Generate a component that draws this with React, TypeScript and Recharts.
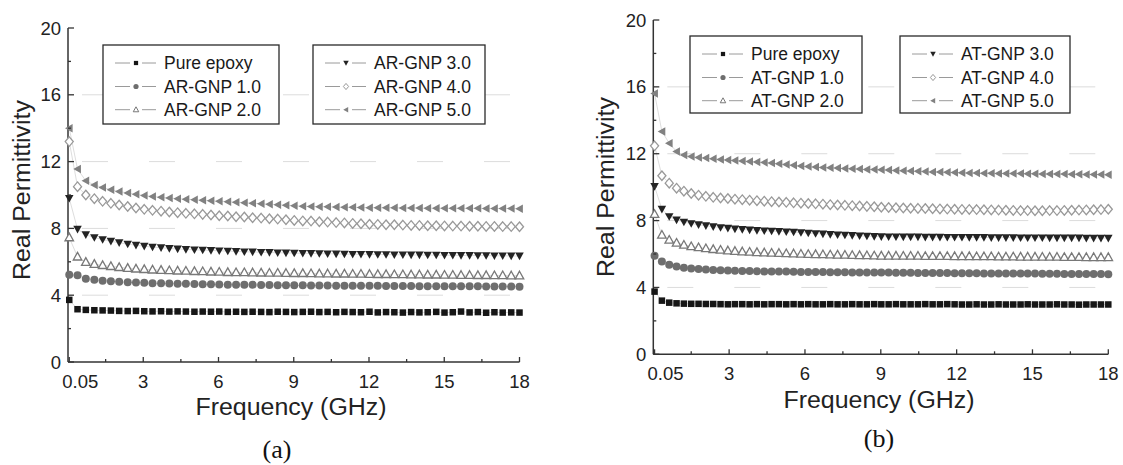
import { LineChart, Line, XAxis, YAxis, ReferenceLine, Legend } from "recharts";

// frequency grids (GHz) of the two measurements
const freqA = [
  0.05, 0.38, 0.71, 1.05, 1.38, 1.71, 2.04, 2.38, 2.71, 3.04, 3.37, 3.71, 4.04, 4.37, 4.7, 5.04, 5.37, 5.7, 6.03,
  6.37, 6.7, 7.03, 7.36, 7.7, 8.03, 8.36, 8.69, 9.02, 9.36, 9.69, 10.02, 10.35, 10.69, 11.02, 11.35, 11.68, 12.02,
  12.35, 12.68, 13.01, 13.35, 13.68, 14.01, 14.34, 14.68, 15.01, 15.34, 15.67, 16.01, 16.34, 16.67, 17.0, 17.33,
  17.67, 18.0,
];
const freqB = [
  0.05, 0.34, 0.63, 0.92, 1.21, 1.5, 1.79, 2.08, 2.37, 2.66, 2.95, 3.23, 3.52, 3.81, 4.1, 4.39, 4.68, 4.97, 5.26,
  5.55, 5.84, 6.13, 6.42, 6.71, 7.0, 7.29, 7.58, 7.87, 8.16, 8.45, 8.74, 9.02, 9.31, 9.6, 9.89, 10.18, 10.47, 10.76,
  11.05, 11.34, 11.63, 11.92, 12.21, 12.5, 12.79, 13.08, 13.37, 13.66, 13.95, 14.24, 14.53, 14.81, 15.1, 15.39,
  15.68, 15.97, 16.26, 16.55, 16.84, 17.13, 17.42, 17.71, 18.0,
];

// (a) AR-GNP composites
const epoxyA = [
  3.72, 3.16, 3.12, 3.1, 3.09, 3.08, 3.06, 3.05, 3.06, 3.04,
  3.03, 3.04, 3.02, 3.03, 3.02, 3.01, 3.02, 3.01, 3.02, 3.0,
  3.01, 3.0, 3.01, 3.0, 2.99, 3.01, 3.0, 2.99, 3.0, 3.01,
  2.99, 3.0, 2.98, 3.0, 2.99, 2.98, 3.01, 2.97, 2.99, 2.98,
  2.96, 2.99, 2.97, 2.98, 3.0, 2.96, 2.98, 3.02, 2.97, 2.99,
  2.95, 2.98, 2.96, 2.97, 2.96,
];
const arGnp1 = [
  5.22, 5.2, 4.98, 4.92, 4.87, 4.84, 4.81, 4.78, 4.76, 4.74,
  4.72, 4.71, 4.7, 4.69, 4.68, 4.67, 4.66, 4.65, 4.64, 4.63,
  4.63, 4.62, 4.62, 4.61, 4.61, 4.6, 4.6, 4.59, 4.59, 4.58,
  4.58, 4.58, 4.57, 4.57, 4.57, 4.56, 4.56, 4.56, 4.55, 4.55,
  4.55, 4.55, 4.54, 4.54, 4.54, 4.54, 4.53, 4.53, 4.53, 4.53,
  4.52, 4.52, 4.52, 4.52, 4.51,
];
const arGnp2 = [
  7.45, 6.3, 5.98, 5.86, 5.79, 5.73, 5.67, 5.62, 5.58, 5.55,
  5.52, 5.5, 5.48, 5.46, 5.45, 5.43, 5.42, 5.4, 5.39, 5.37,
  5.36, 5.36, 5.35, 5.34, 5.33, 5.33, 5.32, 5.31, 5.31, 5.3,
  5.29, 5.29, 5.28, 5.28, 5.27, 5.27, 5.26, 5.25, 5.25, 5.24,
  5.24, 5.23, 5.23, 5.22, 5.22, 5.21, 5.21, 5.2, 5.2, 5.19,
  5.19, 5.18, 5.18, 5.17, 5.17,
];
const arGnp3 = [
  9.8, 7.95, 7.62, 7.45, 7.33, 7.23, 7.14, 7.06, 6.99, 6.93,
  6.88, 6.84, 6.8, 6.77, 6.74, 6.72, 6.7, 6.68, 6.66, 6.64,
  6.62, 6.6, 6.59, 6.57, 6.56, 6.54, 6.53, 6.52, 6.51, 6.5,
  6.49, 6.48, 6.47, 6.46, 6.45, 6.45, 6.44, 6.43, 6.43, 6.42,
  6.42, 6.41, 6.41, 6.4, 6.4, 6.39, 6.39, 6.38, 6.38, 6.37,
  6.37, 6.36, 6.36, 6.35, 6.35,
];
const arGnp4 = [
  13.2, 10.5, 10.0, 9.78, 9.62, 9.5, 9.4, 9.31, 9.22, 9.14,
  9.08, 9.03, 8.98, 8.94, 8.9, 8.87, 8.84, 8.8, 8.76, 8.74,
  8.7, 8.68, 8.64, 8.62, 8.58, 8.56, 8.52, 8.48, 8.45, 8.44,
  8.4, 8.38, 8.35, 8.33, 8.3, 8.28, 8.25, 8.24, 8.22, 8.22,
  8.2, 8.18, 8.18, 8.16, 8.16, 8.15, 8.14, 8.14, 8.13, 8.13,
  8.12, 8.12, 8.11, 8.11, 8.1,
];
const arGnp5 = [
  14.0, 11.55, 10.85, 10.6, 10.45, 10.32, 10.21, 10.12, 10.04, 9.97,
  9.91, 9.86, 9.82, 9.78, 9.75, 9.72, 9.69, 9.66, 9.63, 9.6,
  9.57, 9.54, 9.51, 9.48, 9.45, 9.42, 9.39, 9.36, 9.33, 9.31,
  9.3, 9.29, 9.28, 9.27, 9.26, 9.25, 9.24, 9.24, 9.23, 9.23,
  9.22, 9.22, 9.22, 9.21, 9.21, 9.21, 9.2, 9.2, 9.2, 9.2,
  9.19, 9.19, 9.19, 9.19, 9.18,
];

// (b) AT-GNP composites
const epoxyB = [
  3.75, 3.21, 3.09, 3.05, 3.03, 3.02, 3.02, 3.01, 3.01, 3.0,
  2.99, 3.0, 3.0, 2.99, 3.0, 2.99, 3.0, 3.0, 2.99, 3.0,
  2.99, 3.0, 2.99, 2.99, 3.0, 2.99, 2.99, 3.0, 2.99, 2.99,
  3.0, 2.99, 2.99, 3.0, 2.99, 2.99, 2.99, 3.0, 2.99, 2.99,
  3.0, 2.99, 2.98, 2.98, 2.99, 2.98, 2.98, 2.99, 2.98, 2.98,
  2.98, 2.99, 2.98, 2.98, 2.98, 2.99, 2.98, 2.98, 2.97, 2.98,
  2.98, 2.98, 2.98,
];
const atGnp1 = [
  5.89, 5.55, 5.35, 5.25, 5.18, 5.13, 5.1, 5.07, 5.05, 5.03,
  5.01, 5.0, 4.99, 4.98, 4.97, 4.96, 4.96, 4.95, 4.95, 4.94,
  4.93, 4.93, 4.92, 4.92, 4.91, 4.91, 4.91, 4.9, 4.9, 4.9,
  4.89, 4.89, 4.89, 4.88, 4.88, 4.88, 4.87, 4.87, 4.87, 4.86,
  4.86, 4.85, 4.85, 4.85, 4.85, 4.84, 4.84, 4.84, 4.84, 4.83,
  4.83, 4.83, 4.83, 4.82, 4.82, 4.82, 4.81, 4.81, 4.81, 4.8,
  4.8, 4.8, 4.79,
];
const atGnp2 = [
  8.38, 7.14, 6.84, 6.66, 6.54, 6.45, 6.39, 6.33, 6.28, 6.24,
  6.2, 6.17, 6.14, 6.12, 6.1, 6.08, 6.06, 6.05, 6.03, 6.02,
  6.0, 5.99, 5.98, 5.97, 5.96, 5.95, 5.94, 5.93, 5.92, 5.91,
  5.9, 5.89, 5.89, 5.89, 5.88, 5.88, 5.88, 5.87, 5.87, 5.87,
  5.87, 5.86, 5.86, 5.86, 5.85, 5.85, 5.85, 5.84, 5.84, 5.84,
  5.83, 5.83, 5.83, 5.82, 5.82, 5.82, 5.81, 5.81, 5.81, 5.8,
  5.8, 5.8, 5.8,
];
const atGnp3 = [
  10.04, 8.68, 8.24, 8.04, 7.91, 7.82, 7.75, 7.69, 7.63, 7.58,
  7.54, 7.5, 7.47, 7.44, 7.41, 7.39, 7.37, 7.35, 7.33, 7.31,
  7.28, 7.25, 7.22, 7.2, 7.17, 7.15, 7.13, 7.11, 7.09, 7.07,
  7.05, 7.04, 7.03, 7.03, 7.02, 7.02, 7.02, 7.01, 7.01, 7.01,
  7.0, 7.0, 7.0, 6.99, 6.99, 6.99, 6.98, 6.98, 6.98, 6.98,
  6.97, 6.97, 6.97, 6.97, 6.96, 6.96, 6.96, 6.96, 6.96, 6.95,
  6.95, 6.95, 6.95,
];
const atGnp4 = [
  12.47, 10.68, 10.24, 9.94, 9.76, 9.62, 9.52, 9.45, 9.39, 9.35,
  9.32, 9.28, 9.25, 9.22, 9.19, 9.16, 9.13, 9.11, 9.09, 9.06,
  9.04, 9.02, 9.0, 8.98, 8.95, 8.93, 8.91, 8.89, 8.87, 8.85,
  8.83, 8.8, 8.78, 8.77, 8.75, 8.74, 8.73, 8.72, 8.71, 8.7,
  8.69, 8.68, 8.67, 8.67, 8.66, 8.65, 8.64, 8.63, 8.62, 8.61,
  8.6, 8.6, 8.59, 8.59, 8.6, 8.6, 8.61, 8.62, 8.63, 8.64,
  8.65, 8.66, 8.68,
];
const atGnp5 = [
  15.6, 13.33, 12.63, 12.13, 11.92, 11.83, 11.78, 11.74, 11.7, 11.66,
  11.63, 11.6, 11.57, 11.54, 11.51, 11.48, 11.44, 11.4, 11.36, 11.31,
  11.26, 11.23, 11.2, 11.18, 11.16, 11.14, 11.12, 11.1, 11.08, 11.06,
  11.05, 11.04, 11.02, 11.0, 10.98, 10.96, 10.95, 10.93, 10.91, 10.9,
  10.89, 10.87, 10.86, 10.85, 10.84, 10.83, 10.83, 10.82, 10.82, 10.81,
  10.81, 10.8, 10.8, 10.79, 10.79, 10.78, 10.78, 10.77, 10.77, 10.76,
  10.76, 10.75, 10.74,
];

const namesA = ["Pure epoxy", "AR-GNP 1.0", "AR-GNP 2.0", "AR-GNP 3.0", "AR-GNP 4.0", "AR-GNP 5.0"];
const namesB = ["Pure epoxy", "AT-GNP 1.0", "AT-GNP 2.0", "AT-GNP 3.0", "AT-GNP 4.0", "AT-GNP 5.0"];

const xMajor = [0.05, 3, 6, 9, 12, 15, 18];
const xMajorLabels = ["0.05", "3", "6", "9", "12", "15", "18"];
const xMinor = [1.5, 4.5, 7.5, 10.5, 13.5, 16.5];
const yMajor = [0, 4, 8, 12, 16, 20];
const yMinor = [2, 6, 10, 14, 18];
const gridLevels = [4, 8, 12, 16];

const SANS = "'Liberation Sans', Arial, Helvetica, sans-serif";
const SERIF = "'Liberation Serif', 'Times New Roman', serif";
const AXIS = "#333";

// symbol for each series, same order as the names
const markers = [
  { shape: "square", color: "#161616", size: 6.5 },
  { shape: "circle", color: "#6e6e6e", size: 8 },
  { shape: "triUp", color: "#787878", size: 8.5 },
  { shape: "triDown", color: "#232323", size: 8.5 },
  { shape: "diamond", color: "#999", size: 9.5 },
  { shape: "triLeft", color: "#818181", size: 8.5 },
];

function Marker({ shape, color, size, cx, cy, sw = 1.3 }: any) {
  const h = size / 2;
  switch (shape) {
    case "square":
      return <rect x={cx - h} y={cy - h} width={size} height={size} fill={color} />;
    case "circle":
      return <circle cx={cx} cy={cy} r={h} fill={color} />;
    case "triUp":
      return (
        <path
          d={`M${cx},${cy - h * 1.05}L${cx + h},${cy + h * 0.75}L${cx - h},${cy + h * 0.75}Z`}
          fill="#fff"
          stroke={color}
          strokeWidth={sw}
        />
      );
    case "triDown":
      return <path d={`M${cx - h},${cy - h * 0.8}L${cx + h},${cy - h * 0.8}L${cx},${cy + h}Z`} fill={color} />;
    case "diamond":
      return (
        <path
          d={`M${cx},${cy - h}L${cx + h * 0.85},${cy}L${cx},${cy + h}L${cx - h * 0.85},${cy}Z`}
          fill="#fff"
          stroke={color}
          strokeWidth={sw}
        />
      );
    default:
      return <path d={`M${cx - h},${cy}L${cx + h * 0.8},${cy - h}L${cx + h * 0.8},${cy + h}Z`} fill={color} />;
  }
}

const makeDot = (m: any) => (p: any) =>
  p.cx == null ? <g key={`e-${p.index}`} /> : (
    <g key={`d-${p.index}`}>
      <Marker {...m} cx={p.cx} cy={p.cy} />
    </g>
  );

const XTick = ({ x, y, payload }: any) => {
  const v = payload.value;
  const i = xMajor.indexOf(v);
  const major = i >= 0;
  return (
    <g>
      <line x1={x} x2={x} y1={y} y2={y - (major ? 5 : 3)} stroke={AXIS} strokeWidth={1.3} />
      {major && (
        <text x={x + (i === 0 ? 11 : 0)} y={y + 26} textAnchor="middle" fontSize={18.5} fill="#222" fontFamily={SANS}>
          {xMajorLabels[i]}
        </text>
      )}
    </g>
  );
};

const YTick = ({ x, y, payload }: any) => {
  const v = payload.value;
  const major = yMajor.includes(v);
  return (
    <g>
      <line x1={x} x2={x + (major ? 6 : 3)} y1={y} y2={y} stroke={AXIS} strokeWidth={1.3} />
      {major && (
        <text x={x - 7} y={y + 6.5} textAnchor="end" fontSize={18.5} fill="#222" fontFamily={SANS}>
          {v}
        </text>
      )}
    </g>
  );
};

function LegendBoxes({ names, boxes, width, height }: any) {
  const rows = [18, 41.5, 64.7];
  return (
    <svg width={width} height={height} style={{ position: "absolute", left: 0, top: 0, overflow: "visible" }}>
      {boxes.map((b: any, bi: number) => (
        <g key={bi}>
          <rect x={b.x} y={b.y} width={b.w} height={b.h} fill="#fff" stroke="#2a2a2a" strokeWidth={1.3} />
          {rows.map((ry, ri) => {
            const k = bi * 3 + ri;
            const m = markers[k];
            const cy = b.y + ry;
            return (
              <g key={ri}>
                <line x1={b.x + 12} x2={b.x + 27} y1={cy} y2={cy} stroke="#9a9a9a" strokeWidth={1} />
                <line x1={b.x + 39} x2={b.x + 53} y1={cy} y2={cy} stroke="#9a9a9a" strokeWidth={1} />
                <Marker {...m} size={m.size * 0.65} sw={1} cx={b.x + 33} cy={cy} />
                <text x={b.x + 61} y={cy + 6} fontSize={17.5} fill="#1a1a1a" fontFamily={SANS}>
                  {names[k]}
                </text>
              </g>
            );
          })}
        </g>
      ))}
    </svg>
  );
}

function Panel({ cfg }: any) {
  const data = cfg.freq.map((f: number, i: number) => {
    const row: any = { f };
    cfg.values.forEach((arr: number[], j: number) => {
      row[`s${j}`] = arr[i];
    });
    return row;
  });
  const { plot } = cfg;
  const H = 465;
  const margin = {
    top: plot.top,
    left: plot.left - 50,
    right: cfg.width - plot.right,
    bottom: H - plot.bottom - 30,
  };

  const xTitle = () => (
    <g>
      <text
        x={cfg.xTitle.x}
        y={cfg.xTitle.y}
        textAnchor="middle"
        fontSize={23}
        fill="#222"
        fontFamily={SANS}
        textLength={191}
        lengthAdjust="spacingAndGlyphs"
      >
        Frequency (GHz)
      </text>
      <text x={cfg.tag.x} y={cfg.tag.y} textAnchor="middle" fontSize={26} fill="#111" fontFamily={SERIF}>
        {cfg.tag.text}
      </text>
    </g>
  );
  const yTitle = () => (
    <text
      x={cfg.yTitle.x}
      y={cfg.yTitle.y}
      transform={`rotate(-90, ${cfg.yTitle.x}, ${cfg.yTitle.y})`}
      textAnchor="middle"
      dominantBaseline="central"
      fontSize={23}
      fill="#222"
      fontFamily={SANS}
      textLength={180}
      lengthAdjust="spacingAndGlyphs"
    >
      Real Permittivity
    </text>
  );

  return (
    <div style={{ position: "absolute", left: cfg.left, top: 0, width: cfg.width, height: H }}>
      <LineChart width={cfg.width} height={H} data={data} margin={margin}>
        {gridLevels.map((g) => (
          <ReferenceLine key={g} y={g} stroke="#dcdcdc" strokeWidth={1} strokeDasharray="0 14 26 27" />
        ))}
        <XAxis
          type="number"
          dataKey="f"
          domain={[0, 18]}
          ticks={[...xMajor, ...xMinor].sort((a, b) => a - b)}
          interval={0}
          tickSize={0}
          tickMargin={0}
          tickLine={false}
          tick={XTick}
          axisLine={{ stroke: AXIS, strokeWidth: 1.5 }}
          height={30}
          label={xTitle}
        />
        <YAxis
          type="number"
          domain={[0, 20]}
          ticks={[...yMajor, ...yMinor].sort((a, b) => a - b)}
          interval={0}
          tickSize={0}
          tickMargin={0}
          tickLine={false}
          tick={YTick}
          axisLine={{ stroke: AXIS, strokeWidth: 1.5 }}
          width={50}
          label={yTitle}
        />
        {cfg.values.map((_: any, j: number) => (
          <Line
            key={j}
            type="linear"
            dataKey={`s${j}`}
            name={cfg.names[j]}
            stroke="#d4d4d4"
            strokeWidth={0.8}
            dot={makeDot(markers[j])}
            activeDot={false}
            isAnimationActive={false}
          />
        ))}
        <Legend
          layout="horizontal"
          verticalAlign="middle"
          align="center"
          wrapperStyle={{ left: 0, top: 0, width: cfg.width, height: H, pointerEvents: "none" }}
          content={() => <LegendBoxes names={cfg.names} boxes={cfg.boxes} width={cfg.width} height={H} />}
        />
      </LineChart>
    </div>
  );
}

const panelA = {
  left: 0,
  width: 560,
  plot: { left: 68, right: 519.5, top: 28, bottom: 362 },
  freq: freqA,
  values: [epoxyA, arGnp1, arGnp2, arGnp3, arGnp4, arGnp5],
  names: namesA,
  xTitle: { x: 291, y: 415 },
  yTitle: { x: 21.5, y: 190 },
  tag: { x: 277, y: 458, text: "(a)" },
  boxes: [
    { x: 103, y: 45, w: 176, h: 79 },
    { x: 313, y: 45, w: 172, h: 79 },
  ],
};

const panelB = {
  left: 560,
  width: 563,
  plot: { left: 93.3, right: 548.3, top: 20, bottom: 354.3 },
  freq: freqB,
  values: [epoxyB, atGnp1, atGnp2, atGnp3, atGnp4, atGnp5],
  names: namesB,
  xTitle: { x: 319, y: 408 },
  yTitle: { x: 46, y: 187 },
  tag: { x: 319, y: 447, text: "(b)" },
  boxes: [
    { x: 130, y: 36, w: 172, h: 77 },
    { x: 340, y: 36, w: 170, h: 77 },
  ],
};

export default function App() {
  return (
    <div style={{ position: "absolute", left: 0, top: 0, width: 1123, height: 465, background: "#fff", overflow: "hidden" }}>
      <Panel cfg={panelA} />
      <Panel cfg={panelB} />
    </div>
  );
}
